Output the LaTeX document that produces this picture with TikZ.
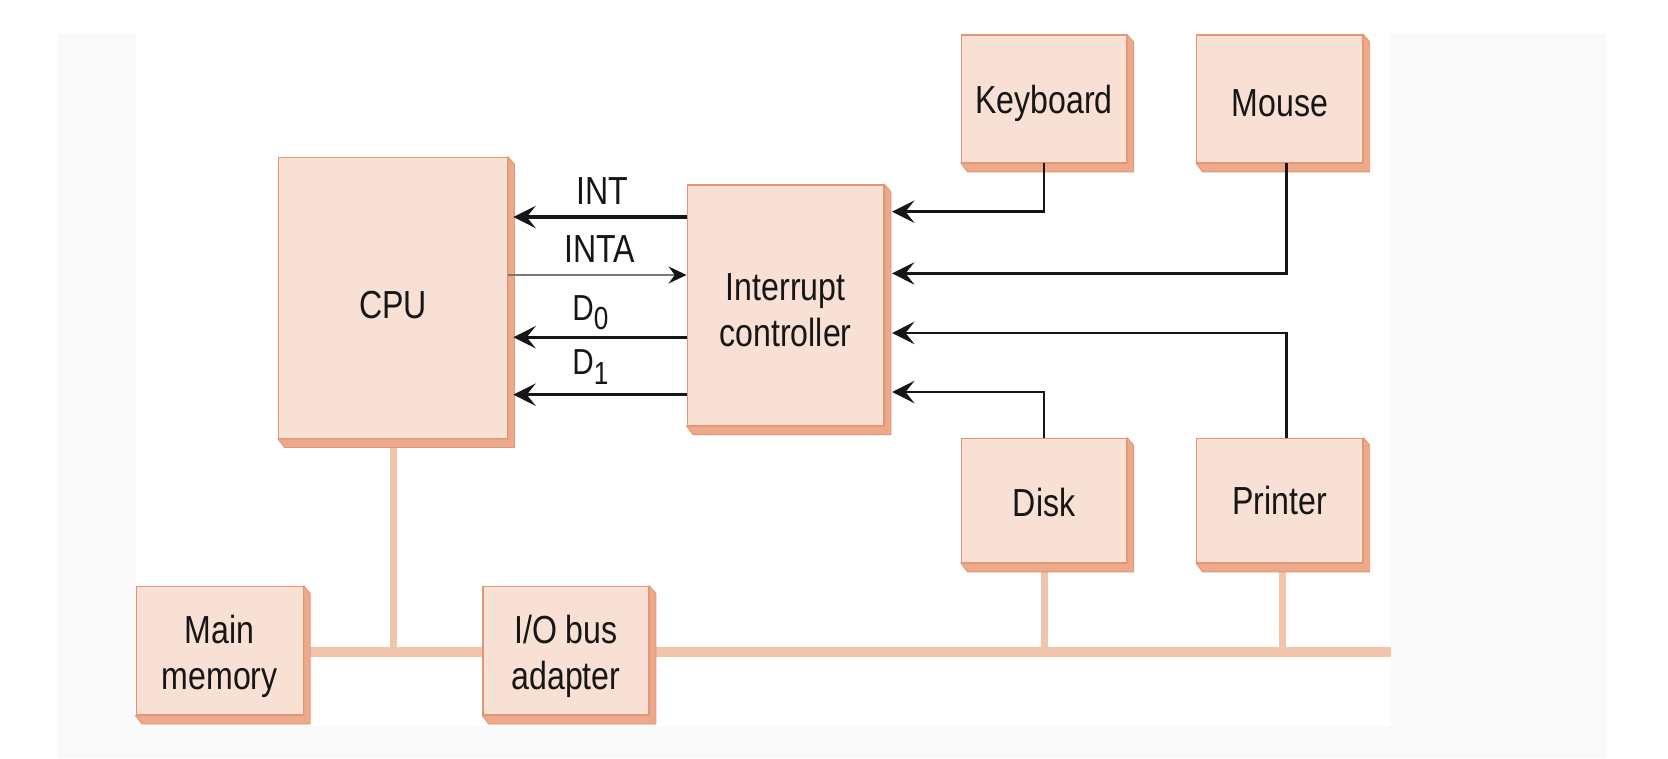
\documentclass[tikz,border=0pt]{standalone}
\usepackage{fontspec}
\setmainfont[FakeStretch=0.82]{Liberation Sans}
\usetikzlibrary{arrows.meta,calc}
\definecolor{facecol}{RGB}{248,225,212}
\definecolor{edgecol}{RGB}{226,150,118}
\definecolor{extcol}{RGB}{236,170,138}
\definecolor{buscol}{RGB}{241,196,171}
\definecolor{panelcol}{RGB}{249,249,249}
\definecolor{inkcol}{RGB}{22,22,22}
\definecolor{thincol}{RGB}{120,120,120}
\newcommand\extrude[1]{%
  \filldraw[fill=extcol, draw=edgecol, line width=0.4pt]
    (#1.north east) -- ($(#1.north east)+(6,7)$) -- ($(#1.south east)+(6,8)$)
    -- ($(#1.south west)+(6,8)$) -- (#1.south west) -- (#1.south east) -- cycle;}
\tikzset{
  box/.style={draw=edgecol, line width=0.6pt, fill=facecol, inner sep=0pt},
  boxtext/.style={inner sep=0pt, align=center, text=inkcol, font=\fontsize{18.4}{21.6}\selectfont},
  lab/.style={inner sep=0pt, anchor=base, text=inkcol, font=\fontsize{18.4}{21.6}\selectfont},
  sublab/.style={inner sep=0pt, anchor=base, text=inkcol, font=\fontsize{17}{19}\selectfont},
  sig/.style={draw=inkcol, line width=1.5pt, -{Stealth[length=10.5pt,width=10.5pt,inset=4.2pt]}},
  sigr/.style={draw=inkcol, line width=1.3pt, -{Stealth[length=10.5pt,width=10.5pt,inset=4.2pt]}},
  thinsig/.style={draw=thincol, line width=0.6pt, -{Stealth[length=8.5pt,width=8pt,inset=3pt,color=inkcol]}},
  bus/.style={draw=buscol, line cap=butt},
}
\begin{document}
\begin{tikzpicture}[x=0.5pt, y=-0.5pt]
\useasboundingbox (0,0) rectangle (1568,713);
\fill[white] (0,0) rectangle (1568,713);
\fill[panelcol] (54,32) rectangle (1510,713);
\fill[white] (128,32) rectangle (1308,682);

% bus (drawn first, behind the boxes)
\coordinate (busR) at (1308,613);
\coordinate (busL) at (285,613);
\coordinate (cpuB) at (369.5,412);
\coordinate (diskB) at (982,529);
\coordinate (prB) at (1206,529);
\draw[bus, line width=4.5pt] (busL) -- (busR);
\draw[bus, line width=3.3pt] (cpuB) -- (cpuB |- busR);
\draw[bus, line width=3.3pt] (diskB) -- (diskB |- busR);
\draw[bus, line width=3.3pt] (prB) -- (prB |- busR);

% boxes
\node[box, minimum width=107.5pt, minimum height=132pt,
  label={[boxtext, yshift=-3.5pt]center:CPU}] (cpu) at (369.5,280) {};
\node[box, minimum width=92.5pt, minimum height=113pt,
  label={[boxtext, yshift=-2.5pt]center:Interrupt\\controller}] (ic) at (738.5,287) {};
\node[box, minimum width=77.5pt, minimum height=60pt,
  label={[boxtext, yshift=-2pt]center:Keyboard}] (kb) at (981.5,93) {};
\node[box, minimum width=78pt, minimum height=60pt,
  label={[boxtext, yshift=-2pt]center:Mouse}] (mouse) at (1203,93) {};
\node[box, minimum width=77.5pt, minimum height=58.5pt,
  label={[boxtext, yshift=-1pt]center:Disk}] (disk) at (981.5,470.5) {};
\node[box, minimum width=78pt, minimum height=58.5pt,
  label={[boxtext, yshift=0pt]center:Printer}] (printer) at (1203,470.5) {};
\node[box, minimum width=78.5pt, minimum height=60.25pt,
  label={[boxtext, yshift=-2.5pt]center:Main\\memory}] (mem) at (206.5,611.75) {};
\node[box, minimum width=78pt, minimum height=60.25pt,
  label={[boxtext, yshift=-2.5pt]center:I/O bus\\adapter}] (ioa) at (532,611.75) {};

\extrude{cpu}
\extrude{ic}
\extrude{kb}
\extrude{mouse}
\extrude{disk}
\extrude{printer}
\extrude{mem}
\extrude{ioa}

% labels
\node[lab] (lint) at (566,192.7) {INT};
\node[lab] (linta) at (564,247) {INTA};
\node[sublab] (ld0) at (555,301) {D{\fontsize{15}{16}\selectfont\raisebox{-4.5pt}{0}}};
\node[sublab] (ld1) at (555,352.5) {D{\fontsize{15}{16}\selectfont\raisebox{-4.5pt}{1}}};

% signal coordinates
\coordinate (cpuR) at ([xshift=2.5pt]cpu.east);
\coordinate (icR) at ([xshift=3.5pt]ic.east);
\coordinate (yint) at (0,204);
\coordinate (yinta) at (0,258.5);
\coordinate (yd0) at (0,317);
\coordinate (yd1) at (0,371);
\coordinate (ykb) at (0,199);
\coordinate (ymo) at (0,257);
\coordinate (ypr) at (0,313);
\coordinate (ydi) at (0,368.5);
\coordinate (mx) at (1209.5,0);

\draw[sig] (ic.west |- yint) -- (cpuR |- yint);
\draw[thinsig] (cpu.east |- yinta) -- (ic.west |- yinta);
\draw[sig] (ic.west |- yd0) -- (cpuR |- yd0);
\draw[sig] (ic.west |- yd1) -- (cpuR |- yd1);

\draw[sigr] (kb.south) |- (icR |- ykb);
\draw[sigr] (mouse.south -| mx) |- (icR |- ymo);
\draw[sigr] (printer.north -| mx) |- (icR |- ypr);
\draw[sigr] (disk.north) |- (icR |- ydi);
\end{tikzpicture}
\end{document}
